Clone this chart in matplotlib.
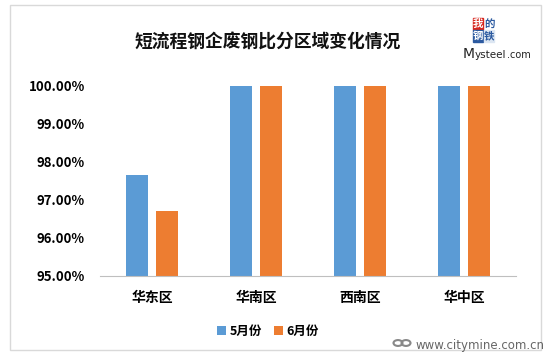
import matplotlib
matplotlib.use("Agg")
import matplotlib.pyplot as plt
from matplotlib.patches import Rectangle, Circle
import numpy as np

plt.rcParams['font.family'] = ['Noto Sans CJK SC', 'DejaVu Sans']

categories = ['华东区', '华南区', '西南区', '华中区']
may = [97.66, 100.0, 100.0, 100.0]
june = [96.71, 100.0, 100.0, 100.0]
yticks = [95, 96, 97, 98, 99, 100]
ytick_labels = ['95.00%', '96.00%', '97.00%', '98.00%', '99.00%', '100.00%']
series_names = ['5月份', '6月份']
title = '短流程钢企废钢比分区域变化情况'

W, H = 549, 358
fig = plt.figure(figsize=(W / 100, H / 100), dpi=100)
fig.patch.set_facecolor('white')

def fx(px):
    return px / W

def fy(py):
    return 1 - py / H

# outer border
fig.add_artist(Rectangle((fx(10), fy(350)), (541 - 10) / W, (350 - 5) / H,
                         transform=fig.transFigure, fill=False,
                         edgecolor='#d9d9d9', linewidth=1.0))

ax = fig.add_axes([fx(100), fy(276), (516 - 100) / W, (276 - 86) / H])
x = np.arange(len(categories))
w = 0.22
off = 0.144
ax.bar(x - off, may, w, color='#5b9bd5', label=series_names[0], zorder=2)
ax.bar(x + off, june, w, color='#ed7d31', label=series_names[1], zorder=2)

ax.set_ylim(95, 100)
ax.set_xlim(-0.5, len(categories) - 0.5)
ax.set_yticks(yticks)
ax.set_yticklabels(ytick_labels, fontsize=9.5, fontweight='bold')
ax.set_xticks(x)
ax.set_xticklabels(categories, fontsize=10, fontweight='bold')
for s in ['top', 'right', 'left']:
    ax.spines[s].set_visible(False)
ax.spines['bottom'].set_color('#bfbfbf')
ax.tick_params(axis='both', length=0)
ax.tick_params(axis='y', pad=11)
ax.tick_params(axis='x', pad=11)

fig.text(fx(268), fy(43), title, ha='center', va='center',
         fontsize=12.8, fontweight='bold', color='#111111')

leg = fig.legend(loc='center', bbox_to_anchor=(fx(268), fy(331)), ncol=2,
                 frameon=False, prop={'size': 9, 'weight': 'bold'},
                 handlelength=0.7, handleheight=0.7, handletextpad=0.3,
                 columnspacing=1.0)

# logo
fig.add_artist(Rectangle((fx(473), fy(29.5)), 10 / W, 12 / H, transform=fig.transFigure,
                         color='#d7261e'))
fig.add_artist(Rectangle((fx(473), fy(42)), 10 / W, 12 / H, transform=fig.transFigure,
                         color='#2c5aa0'))
fig.add_artist(Rectangle((fx(484), fy(42)), 10 / W, 12 / H, transform=fig.transFigure,
                         color='#dce6f2'))
for (cx, cy, ch, col) in [(478, 23.5, '我', 'white'), (489, 23.5, '的', '#2c5aa0'),
                          (478, 36, '钢', 'white'), (489, 36, '铁', '#2c5aa0')]:
    fig.text(fx(cx), fy(cy), ch, ha='center', va='center', fontsize=7.5,
             color=col, fontweight='bold')
fig.text(fx(463), fy(54), 'M', ha='left', va='center', fontsize=10,
         color='#222222', family=['DejaVu Sans'])
fig.text(fx(475), fy(55), 'ysteel', ha='left', va='center', fontsize=7.5,
         color='#222222', family=['DejaVu Sans'])
fig.text(fx(507), fy(55), '.com', ha='left', va='center', fontsize=7,
         color='#222222', family=['DejaVu Sans'])

# watermark
fig.add_artist(Circle((fx(398), fy(343)), 4.5 / W, transform=fig.transFigure,
                      fill=False, edgecolor='#888888', linewidth=1.5))
fig.add_artist(Circle((fx(406), fy(343)), 4.5 / W, transform=fig.transFigure,
                      fill=False, edgecolor='#888888', linewidth=1.5))
fig.text(fx(545), fy(345), 'www.citymine.com.cn', ha='right', va='center',
         fontsize=8.5, color='#666666', family=['DejaVu Sans'])

fig.savefig('out.png', dpi=100, facecolor='white')
